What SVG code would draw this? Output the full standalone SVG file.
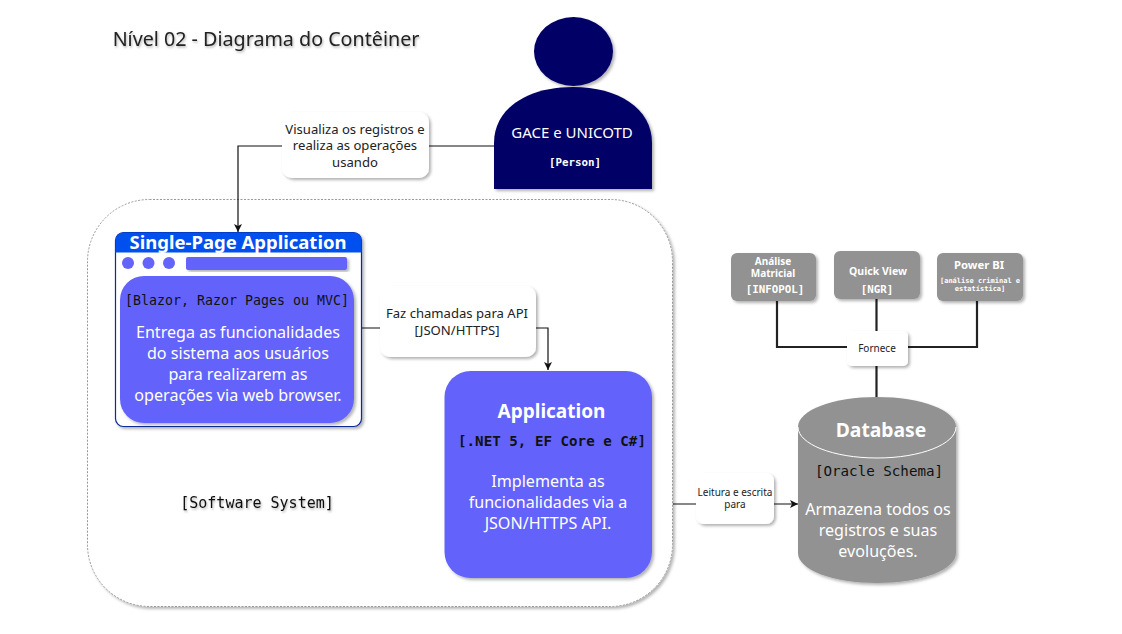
<svg xmlns="http://www.w3.org/2000/svg" width="1122" height="634" viewBox="0 0 1122 634">
<defs>
<filter id="sh" x="-15%" y="-15%" width="130%" height="130%"><feDropShadow dx="2" dy="2" stdDeviation="1.5" flood-color="#000" flood-opacity="0.3"/></filter>
<filter id="ts" x="-10%" y="-30%" width="120%" height="170%"><feDropShadow dx="1" dy="1.5" stdDeviation="1" flood-color="#000" flood-opacity="0.3"/></filter>
<marker id="arr" markerUnits="userSpaceOnUse" markerWidth="9" markerHeight="9" refX="8" refY="4" orient="auto"><path d="M0 0L8 4L0 8L2 4Z" fill="#111"/></marker>
</defs>
<style>
text{font-family:"Noto Sans","Liberation Sans",sans-serif;text-anchor:middle}
.m{font-family:"DejaVu Sans Mono","Liberation Mono",monospace}
.w{fill:#fff}
.l{fill:#222;font-size:13.100px}
.s{fill:#222;font-size:10px}
.lb{fill:#fff;filter:url(#sh)}
.c{fill:none;stroke:#111;stroke-width:1.2}
.t{fill:none;stroke:#222;stroke-width:2.2}
.g{fill:#929292;filter:url(#sh)}
.p{fill:#6464fb;filter:url(#sh)}
.b{font-size:16.100px}
</style>
<rect width="1122" height="634" fill="#fff"/>
<text id="title" x="266" y="46" font-size="19.700" fill="#222" filter="url(#ts)">Nível 02 - Diagrama do Contêiner</text>
<g id="software-system">
<rect x="87.500" y="199.500" width="585" height="407" rx="62" fill="#fff" stroke="#999" stroke-dasharray="2 1.500" filter="url(#sh)"/>
<text class="m" x="257" y="508" font-size="15" fill="#111" filter="url(#ts)">[Software System]</text>
</g>
<g id="connectors">
<path class="c" d="M494 146H238V232" marker-end="url(#arr)"/>
<path class="c" d="M362 328H548V370" marker-end="url(#arr)"/>
<path class="c" d="M673 504H798" marker-end="url(#arr)"/>
<path class="t" d="M777 301V347H977V301M876.500 299V397"/>
</g>
<g id="person">
<ellipse cx="573.500" cy="51.500" rx="39.500" ry="34.500" fill="#000066" filter="url(#sh)"/>
<path d="M494 189V143C494 108 528 87 573 87S652 108 652 143V189Z" fill="#000066" filter="url(#sh)"/>
<text class="w" x="572" y="138" font-size="15">GACE e UNICOTD</text>
<text class="w m" x="575" y="166" font-size="10.800" font-weight="bold">[Person]</text>
</g>
<g id="label-visualiza">
<rect class="lb" x="282" y="112" width="147" height="66" rx="10"/>
<text class="l" x="355" y="134">Visualiza os registros e</text>
<text class="l" x="355" y="150">realiza as operações</text>
<text class="l" x="355" y="167">usando</text>
</g>
<g id="spa">
<rect x="115.500" y="232.500" width="246" height="194" rx="8" fill="#fff" stroke="#0b2a9a" stroke-width="1.200" filter="url(#sh)"/>
<path d="M115.500 252.500V240.500a8 8 0 0 1 8-8H353.500a8 8 0 0 1 8 8V252.500Z" fill="#0050ef"/>
<text x="238" y="249" font-size="18.500" font-weight="bold" class="w">Single-Page Application</text>
<circle cx="128" cy="263" r="6" fill="#6464fb"/><circle cx="148.500" cy="263" r="6" fill="#6464fb"/><circle cx="169" cy="263" r="6" fill="#6464fb"/>
<rect class="p" x="186" y="257" width="161" height="13" rx="2"/>
<rect class="p" x="120" y="276" width="234" height="147" rx="24"/>
<text class="m" x="237" y="305" font-size="13.300" fill="#111">[Blazor, Razor Pages ou MVC]</text>
<text class="w b" x="238" y="338">Entrega as funcionalidades</text>
<text class="w b" x="238" y="359">do sistema aos usuários</text>
<text class="w b" x="238" y="380">para realizarem as</text>
<text class="w b" x="238" y="401">operações via web browser.</text>
</g>
<g id="label-chamadas">
<rect class="lb" x="380" y="286" width="156" height="71" rx="10"/>
<text class="l" x="457" y="318">Faz chamadas para API</text>
<text class="l" x="457" y="335">[JSON/HTTPS]</text>
</g>
<g id="application">
<rect class="p" x="444.500" y="371" width="207.500" height="207" rx="26"/>
<text class="w" x="551.500" y="418" font-size="19" font-weight="bold">Application</text>
<text class="m" x="552" y="446" font-size="14.200" font-weight="bold" fill="#111">[.NET 5, EF Core e C#]</text>
<text class="w b" x="548" y="487">Implementa as</text>
<text class="w b" x="548" y="508">funcionalidades via a</text>
<text class="w b" x="548" y="529">JSON/HTTPS API.</text>
</g>
<g id="label-leitura">
<rect class="lb" x="696" y="473" width="78" height="51" rx="8"/>
<text class="s" x="735" y="496">Leitura e escrita</text>
<text class="s" x="735" y="508">para</text>
</g>
<g id="database">
<path class="g" d="M798 427C798 410 833 397 877 397S956 410 956 427V553C956 570 921 583 877 583S798 570 798 553Z"/>
<path d="M798 427C798 444 833 458 877 458S956 444 956 427" fill="none" stroke="#fff" stroke-width="1"/>
<text class="w" x="881" y="437" font-size="19.300" font-weight="bold">Database</text>
<text class="m" x="879" y="476" font-size="14.200" fill="#111">[Oracle Schema]</text>
<text class="w b" x="878" y="515">Armazena todos os</text>
<text class="w b" x="878" y="536">registros e suas</text>
<text class="w b" x="878" y="557">evoluções.</text>
</g>
<g id="analise">
<rect class="g" x="731" y="253" width="85" height="48" rx="6"/>
<text class="w" x="773" y="265" font-size="10" font-weight="bold">Análise</text>
<text class="w" x="773" y="277" font-size="10" font-weight="bold">Matricial</text>
<text class="w m" x="775" y="293" font-size="10.800" font-weight="bold">[INFOPOL]</text>
</g>
<g id="quickview">
<rect class="g" x="834" y="251" width="86" height="48" rx="6"/>
<text class="w" x="878" y="275" font-size="10.500" font-weight="bold">Quick View</text>
<text class="w m" x="877" y="293" font-size="10.800" font-weight="bold">[NGR]</text>
</g>
<g id="powerbi">
<rect class="g" x="937" y="253" width="86" height="48" rx="6"/>
<text class="w" x="979" y="269" font-size="11.300" font-weight="bold">Power BI</text>
<text class="w m" x="980" y="283" font-size="7" font-weight="bold">[análise criminal e</text>
<text class="w m" x="980" y="291" font-size="7" font-weight="bold">estatística]</text>
</g>
<g id="label-fornece">
<rect class="lb" x="847" y="331" width="61" height="35" rx="5"/>
<text class="s" x="877" y="352">Fornece</text>
</g>
</svg>
